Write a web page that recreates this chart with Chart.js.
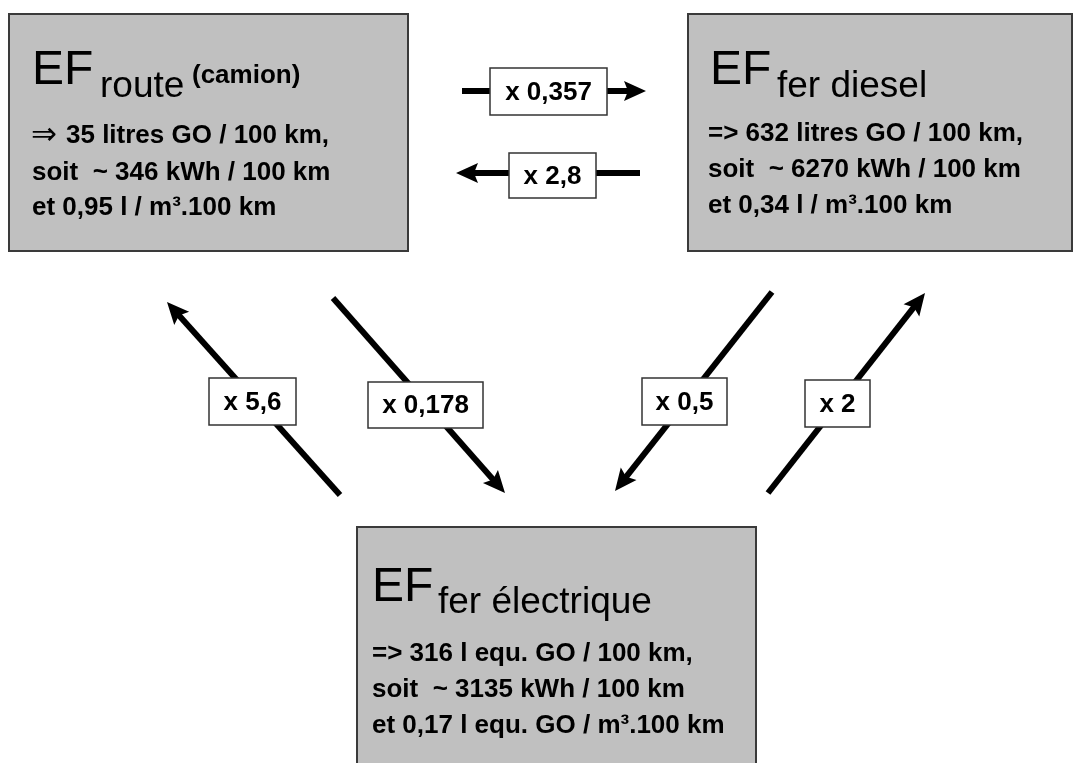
<!DOCTYPE html>
<html>
<head>
<meta charset="utf-8">
<script src="https://cdn.jsdelivr.net/npm/chart.js@4/dist/chart.umd.min.js"></script>
<style>
  html, body { margin: 0; padding: 0; background: #ffffff; }
  #wrap { width: 1074px; height: 763px; position: relative; }
</style>
</head>
<body>
<div id="wrap"><canvas id="c" width="1074" height="763"></canvas></div>
<script>
// ---------- content (text values) ----------
const nodeTitles = ['EF', 'EF', 'EF'];
const nodeSubscripts = ['route', 'fer diesel', 'fer électrique'];
const nodeSuperscripts = ['(camion)', '', ''];
const nodeLeadGlyphs = ['\u21D2', '=>', '=>'];
const nodeLines1 = ['35 litres GO / 100 km,', '632 litres GO / 100 km,', '316 l equ. GO / 100 km,'];
const nodeLines2 = ['soit  ~ 346 kWh / 100 km', 'soit  ~ 6270 kWh / 100 km', 'soit  ~ 3135 kWh / 100 km'];
const nodeLines3 = ['et 0,95 l / m\u00B3.100 km', 'et 0,34 l / m\u00B3.100 km', 'et 0,17 l equ. GO / m\u00B3.100 km'];
const factorLabels = ['x 0,357', 'x 2,8', 'x 5,6', 'x 0,178', 'x 0,5', 'x 2'];
const arrowFrom = ['route', 'fer diesel', 'fer électrique', 'route', 'fer diesel', 'fer électrique'];
const arrowTo   = ['fer diesel', 'route', 'route', 'fer électrique', 'fer électrique', 'fer diesel'];

// ---------- layout (diagram frame: 0..1074 x 0..763, y downward) ----------
const boxX0 = [9, 688, 357];
const boxY0 = [14, 14, 527];
const boxX1 = [408, 1072, 756];
const boxY1 = [251, 251, 775];
const titleX = [32, 710, 372];
const titleBase = [84, 84, 601];
const subX = [100, 777, 438];
const subBase = [97, 97, 613];
const supX = [192, 0, 0];
const supBase = [83, 0, 0];
const lineX = [32, 708, 372];
const lineBase1 = [143, 141, 661];
const lineBase2 = [180, 177, 697];
const lineBase3 = [215, 213, 733];

const arrowTailX = [462, 640, 340, 333, 772, 768];
const arrowTailY = [91, 173, 495, 298, 292, 493];
const arrowTipX  = [646, 456, 167, 505, 615, 925];
const arrowTipY  = [91, 173, 302, 493, 491, 293];
const labelX0 = [490, 509, 209, 368, 642, 805];
const labelY0 = [68, 153, 378, 382, 378, 380];
const labelX1 = [607, 596, 296, 483, 727, 870];
const labelY1 = [115, 198, 425, 428, 425, 427];

// ---------- styles ----------
const FONT = '"Liberation Sans", Arial, Helvetica, sans-serif';
const BOX_FILL = '#c0c0c0';
const BOX_EDGE = '#3a3a3a';
const SHAFT_W = 6;
const HEAD_LEN = 22;
const HEAD_HALF = 10;

// shaft datasets: tail -> point just behind the head
const shaftDatasets = arrowTailX.map((tx, i) => {
  const dx = arrowTipX[i] - tx, dy = arrowTipY[i] - arrowTailY[i];
  const L = Math.hypot(dx, dy);
  const back = HEAD_LEN * 0.7;
  return {
    label: arrowFrom[i] + ' \u2192 ' + arrowTo[i] + ' (' + factorLabels[i] + ')',
    data: [
      { x: tx, y: arrowTailY[i] },
      { x: arrowTipX[i] - dx / L * back, y: arrowTipY[i] - dy / L * back }
    ],
    showLine: true,
    borderColor: '#000000',
    borderWidth: SHAFT_W,
    borderCapStyle: 'butt',
    pointRadius: 0,
    pointHoverRadius: 0,
    fill: false
  };
});

const diagramPlugin = {
  id: 'diagram',
  beforeDatasetsDraw(chart) {
    const ctx = chart.ctx, xs = chart.scales.x, ys = chart.scales.y;
    const px = v => xs.getPixelForValue(v), py = v => ys.getPixelForValue(v);
    ctx.save();
    for (let i = 0; i < nodeTitles.length; i++) {
      const x0 = px(boxX0[i]), y0 = py(boxY0[i]), x1 = px(boxX1[i]), y1 = py(boxY1[i]);
      ctx.fillStyle = BOX_FILL;
      ctx.fillRect(x0, y0, x1 - x0, y1 - y0);
      ctx.strokeStyle = BOX_EDGE;
      ctx.lineWidth = 2;
      ctx.strokeRect(x0, y0, x1 - x0, y1 - y0);

      ctx.fillStyle = '#000000';
      ctx.textBaseline = 'alphabetic';
      ctx.textAlign = 'left';
      ctx.font = '48px ' + FONT;
      ctx.fillText(nodeTitles[i], px(titleX[i]), py(titleBase[i]));
      ctx.font = '37px ' + FONT;
      ctx.fillText(nodeSubscripts[i], px(subX[i]), py(subBase[i]));
      if (nodeSuperscripts[i]) {
        ctx.font = 'bold 26px ' + FONT;
        ctx.fillText(nodeSuperscripts[i], px(supX[i]), py(supBase[i]));
      }
      // line 1 with lead glyph
      let lx = px(lineX[i]);
      if (nodeLeadGlyphs[i] === '\u21D2') {
        ctx.font = '31px "DejaVu Sans", ' + FONT;
        ctx.fillText(nodeLeadGlyphs[i], lx - 1, py(lineBase1[i]) + 1);
        lx += 34;
        ctx.font = 'bold 26px ' + FONT;
        ctx.fillText(nodeLines1[i], lx, py(lineBase1[i]));
      } else {
        ctx.font = 'bold 26px ' + FONT;
        ctx.fillText(nodeLeadGlyphs[i] + ' ' + nodeLines1[i], lx, py(lineBase1[i]));
      }
      ctx.font = 'bold 26px ' + FONT;
      ctx.fillText(nodeLines2[i], px(lineX[i]), py(lineBase2[i]));
      ctx.fillText(nodeLines3[i], px(lineX[i]), py(lineBase3[i]));
    }
    ctx.restore();
  },
  afterDatasetsDraw(chart) {
    const ctx = chart.ctx, xs = chart.scales.x, ys = chart.scales.y;
    const px = v => xs.getPixelForValue(v), py = v => ys.getPixelForValue(v);
    ctx.save();
    // arrow heads
    for (let i = 0; i < arrowTipX.length; i++) {
      const tx = px(arrowTipX[i]), ty = py(arrowTipY[i]);
      const sx = px(arrowTailX[i]), sy = py(arrowTailY[i]);
      const L = Math.hypot(tx - sx, ty - sy);
      const ux = (tx - sx) / L, uy = (ty - sy) / L;
      const bx = tx - ux * HEAD_LEN, by = ty - uy * HEAD_LEN;
      ctx.beginPath();
      ctx.moveTo(tx, ty);
      ctx.lineTo(bx - uy * HEAD_HALF, by + ux * HEAD_HALF);
      ctx.lineTo(bx + ux * 4, by + uy * 4);
      ctx.lineTo(bx + uy * HEAD_HALF, by - ux * HEAD_HALF);
      ctx.closePath();
      ctx.fillStyle = '#000000';
      ctx.fill();
    }
    // factor label boxes
    for (let i = 0; i < factorLabels.length; i++) {
      const x0 = px(labelX0[i]), y0 = py(labelY0[i]), x1 = px(labelX1[i]), y1 = py(labelY1[i]);
      ctx.fillStyle = '#ffffff';
      ctx.fillRect(x0, y0, x1 - x0, y1 - y0);
      ctx.strokeStyle = '#333333';
      ctx.lineWidth = 1.5;
      ctx.strokeRect(x0, y0, x1 - x0, y1 - y0);
      ctx.fillStyle = '#000000';
      ctx.font = 'bold 26px ' + FONT;
      ctx.textAlign = 'center';
      ctx.textBaseline = 'middle';
      ctx.fillText(factorLabels[i], (x0 + x1) / 2, (y0 + y1) / 2 + 1);
    }
    ctx.restore();
  }
};

new Chart(document.getElementById('c'), {
  type: 'scatter',
  data: { datasets: shaftDatasets },
  options: {
    responsive: false,
    devicePixelRatio: 1,
    animation: false,
    layout: { padding: 0 },
    scales: {
      x: { type: 'linear', min: 0, max: 1074, display: false },
      y: { type: 'linear', min: 0, max: 763, reverse: true, display: false }
    },
    plugins: { legend: { display: false }, tooltip: { enabled: false } },
    elements: { line: { tension: 0 } }
  },
  plugins: [diagramPlugin]
});
</script>
</body>
</html>
